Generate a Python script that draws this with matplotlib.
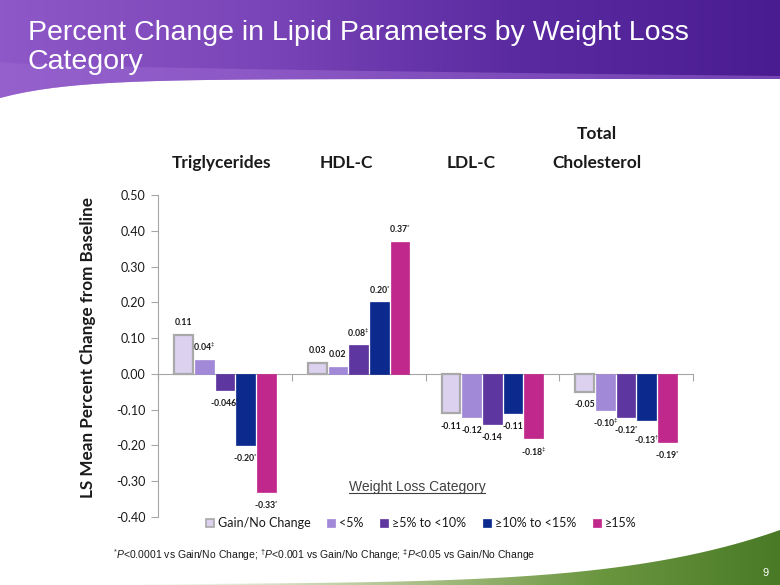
import numpy as np
import matplotlib
matplotlib.use("Agg")
import matplotlib.pyplot as plt
from matplotlib.patches import Polygon
from matplotlib.lines import Line2D
import matplotlib.colors as mcolors

# ---------------- data ----------------
categories = ["Triglycerides", "HDL-C", "LDL-C", "Total\nCholesterol"]
series_names = ["Gain/No Change", "<5%", "≥5% to <10%", "≥10% to <15%", "≥15%"]
triglycerides = [0.11, 0.04, -0.046, -0.20, -0.33]
hdl_c = [0.03, 0.02, 0.08, 0.20, 0.37]
ldl_c = [-0.11, -0.12, -0.14, -0.11, -0.18]
total_chol = [-0.05, -0.10, -0.12, -0.13, -0.19]
tg_marks = ["", "‡", "*", "*", "*"]
hdl_marks = ["", "", "‡", "*", "*"]
ldl_marks = ["", "", "", "", "‡"]
tc_marks = ["", "‡", "*", "†", "*"]
yticks = [0.50, 0.40, 0.30, 0.20, 0.10, 0.00, -0.10, -0.20, -0.30, -0.40]

values = np.array([triglycerides, hdl_c, ldl_c, total_chol])  # [category, series]
marks = [tg_marks, hdl_marks, ldl_marks, tc_marks]

colors = ["#ddd1f0", "#a289d8", "#5e36a0", "#0c2a8e", "#c0288c"]
edges = ["#a9a9a9", "#a289d8", "#5e36a0", "#0c2a8e", "#c0288c"]

# label layout: extra downward shift (points) for crowded labels
extra_shift = {(3, 3): 4.5}

plt.rcParams["mathtext.fontset"] = "custom"
plt.rcParams["mathtext.rm"] = "Liberation Sans"
plt.rcParams["mathtext.it"] = "Liberation Sans:italic"
plt.rcParams["mathtext.bf"] = "Liberation Sans:bold"

W, H = 780, 585
fig = plt.figure(figsize=(W / 100, H / 100), dpi=100)

# ---------------- decoration (background) ----------------
bg = fig.add_axes([0, 0, 1, 1], zorder=-10)
bg.set_xlim(0, W)
bg.set_ylim(H, 0)
bg.axis("off")

grad = np.linspace(0, 1, 256).reshape(1, -1)
cmap_p = mcolors.LinearSegmentedColormap.from_list("p", ["#8f58c8", "#7a45b8", "#5a2aa0", "#4a1c92"])
im = bg.imshow(grad, extent=[0, W, 100, 0], aspect="auto", cmap=cmap_p, zorder=0)
hx = np.linspace(0, W, 60)
hbot = 79 + 19 * np.exp(-hx / 70.0)
head_poly = Polygon(np.vstack([np.column_stack([hx, hbot]), [[W, 0], [0, 0]]]),
                    closed=True, facecolor="none", edgecolor="none")
bg.add_patch(head_poly)
im.set_clip_path(head_poly)
htop = 62 + 14 * (hx / W) ** 0.6
sw = Polygon(np.vstack([np.column_stack([hx, htop]), np.column_stack([hx[::-1], hbot[::-1]])]),
             closed=True, facecolor="#9a68d0", edgecolor="none", alpha=0.55, zorder=1)
bg.add_patch(sw)

cmap_g = mcolors.LinearSegmentedColormap.from_list(
    "g", [(1, 1, 1, 0), "#dfe6cf", "#a9bf86", "#6b9640", "#4a7a26"])
im2 = bg.imshow(grad, extent=[60, W, H, 525], aspect="auto", cmap=cmap_g, zorder=0)
gx = np.linspace(60, W, 80)
t = (gx - 60) / (W - 60)
gtop = 585 - 50 * t ** 5 - 5 * t
g_poly = Polygon(np.vstack([np.column_stack([gx, gtop]), [[W, H], [60, H]]]),
                 closed=True, facecolor="none", edgecolor="none")
bg.add_patch(g_poly)
im2.set_clip_path(g_poly)

# ---------------- main chart ----------------
ax = fig.add_axes([158 / W, 1 - 517 / H, (693 - 158) / W, (517 - 195) / H])
n_cat, n_ser = values.shape
x = np.arange(n_cat)
step = 0.155
width = 0.14
for j in range(n_ser):
    xs = x + (j - (n_ser - 1) / 2) * step
    ax.bar(xs, values[:, j], width=width, color=colors[j], edgecolor=edges[j],
           linewidth=1.6 if j == 0 else 0.5, zorder=2)
    for i in range(n_cat):
        v = values[i, j]
        txt = f"{v:.3f}" if abs(round(v, 2) - v) > 1e-9 else f"{v:.2f}"
        m = marks[i][j]
        if m == "*":
            txt += r"$^{*}$"
        elif m == "†":
            txt += r"$^{\dag}$"
        elif m == "‡":
            txt += r"$^{\ddag}$"
        dy = 9 if v >= 0 else -9.5 - extra_shift.get((i, j), 0)
        ax.annotate(txt, (xs[i], v), xytext=(0, dy),
                    textcoords="offset points", ha="center", va="center",
                    fontsize=6.3, fontweight="bold", family="Lato", color="#1a1a1a", zorder=3)

ax.set_xlim(-0.5, n_cat - 0.5)
ax.set_ylim(-0.40, 0.50)
ax.set_yticks(yticks)
ax.set_yticklabels([f"{v:.2f}" for v in yticks], family="Lato", fontsize=9, color="#1a1a1a")
ax.set_xticks(np.arange(n_cat + 1) - 0.5)
ax.set_xticklabels([])
ax.spines["top"].set_visible(False)
ax.spines["right"].set_visible(False)
ax.spines["bottom"].set_position(("data", 0))
ax.spines["bottom"].set_color("#a6a6a6")
ax.spines["left"].set_color("#a6a6a6")
ax.spines["bottom"].set_zorder(1)
ax.tick_params(axis="y", color="#a6a6a6", length=5, pad=4)
ax.tick_params(axis="x", color="#a6a6a6", length=5, direction="out")
ax.set_facecolor("none")

# category titles above
title_x = [221, 346, 471, 597]
for cx, cat in zip(title_x, categories):
    fig.text(cx / W, 1 - 171 / H, cat, ha="center", va="bottom",
             fontsize=12.5, fontweight="bold", family="Lato", color="#1a1a1a",
             linespacing=2.0)

# y label
fig.text(88 / W, 1 - 348 / H, "LS Mean Percent Change from Baseline", rotation=90,
         ha="center", va="center", fontsize=12.3, fontweight="bold", family="Lato", color="#1a1a1a")

# weight loss category caption (underlined)
wl = fig.text(417 / W, 1 - 487 / H, "Weight Loss Category", ha="center", va="center",
              fontsize=10, family="Liberation Sans", color="#404040")

# legend
handles = [Line2D([], [], marker="s", linestyle="none", markersize=6,
                  markerfacecolor=colors[j], markeredgecolor=edges[j],
                  markeredgewidth=1.2 if j == 0 else 0.5) for j in range(n_ser)]
leg = fig.legend(handles, series_names, loc="center", bbox_to_anchor=(421 / W, 1 - 523 / H),
                 ncol=n_ser, frameon=False, handlelength=0.7, handletextpad=0.3,
                 columnspacing=1.3, prop={"family": "Lato", "size": 9})
for t_ in leg.get_texts():
    t_.set_color("#1a1a1a")

# header title
fig.text(28 / W, 1 - 20 / H, "Percent Change in Lipid Parameters by Weight Loss\nCategory",
         ha="left", va="top", fontsize=20.5, family="Liberation Sans", color="white",
         linespacing=1.15)

# footnote
fig.text(113 / W, 1 - 555 / H,
         r"$^{*}$$\it{P}$<0.0001 vs Gain/No Change; $^{\dag}$$\it{P}$<0.001 vs Gain/No Change; "
         r"$^{\ddag}$$\it{P}$<0.05 vs Gain/No Change",
         ha="left", va="center", fontsize=7.5, family="Liberation Sans", color="#1a1a1a")

fig.text(766 / W, 1 - 573 / H, "9", ha="center", va="center", fontsize=8,
         family="Liberation Sans", color="white")

fig.canvas.draw()
bb = wl.get_window_extent().transformed(fig.transFigure.inverted())
fig.add_artist(Line2D([bb.x0, bb.x1], [bb.y0 + 0.001, bb.y0 + 0.001], color="#404040",
                      linewidth=0.8, transform=fig.transFigure))

fig.savefig("out.png", dpi=100)
